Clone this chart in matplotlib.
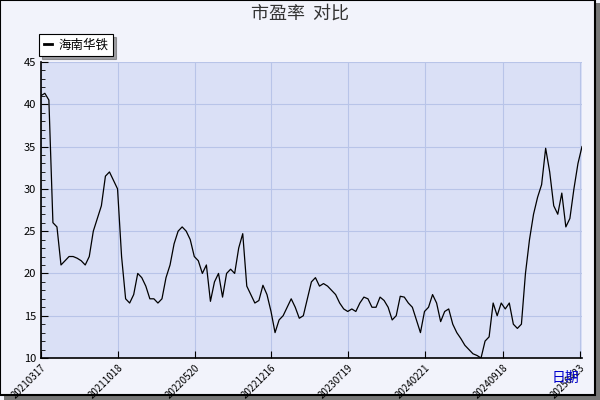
import matplotlib
matplotlib.use("Agg")
import matplotlib.pyplot as plt
import numpy as np
from matplotlib.patches import Rectangle

plt.rcParams['font.family'] = ['Noto Sans CJK SC', 'DejaVu Sans']

tick_labels = ["20210317", "20211018", "20220520", "20221216", "20230719", "20240221", "20240918", "20250423"]
tick_frac = [0, 0.1423, 0.2847, 0.4251, 0.5675, 0.7098, 0.8540, 0.9963]

pe = [41.0, 41.3, 40.5, 26.0, 25.5, 21.0, 21.5, 22.0, 22.0, 21.8, 21.5, 21.0, 22.0, 25.0, 26.5, 28.0,
      31.5, 32.0, 31.0, 30.0, 22.0, 17.0, 16.5, 17.5, 20.0, 19.5, 18.5, 17.0, 17.0,
      16.5, 17.0, 19.5, 21.0, 23.5, 25.0, 25.5, 25.0, 24.0, 22.0, 21.5, 20.0, 21.0, 16.7, 19.0, 20.0,
      17.2, 20.0, 20.5, 20.0, 23.0, 24.7, 18.5, 17.5, 16.5, 16.8,
      18.6, 17.5, 15.5, 13.0, 14.5, 15.0, 16.0, 17.0, 16.0, 14.7, 15.0, 17.0, 19.0, 19.5, 18.5, 18.8,
      18.5, 18.0, 17.5, 16.5, 15.8, 15.5, 15.8, 15.5, 16.5, 17.2, 17.0, 16.0, 16.0, 17.2, 16.8, 16.0,
      14.5, 15.0, 17.3, 17.2, 16.5, 16.0, 14.5, 13.0, 15.5, 16.0,
      17.5, 16.5, 14.3, 15.5, 15.8, 14.0, 13.0, 12.3, 11.5, 11.0, 10.5, 10.3, 10.0,
      12.0, 12.5, 16.5, 15.0, 16.5, 15.8, 16.5, 14.0, 13.5, 14.0, 20.0, 24.0, 27.0, 29.0, 30.5,
      34.8, 32.0, 28.0, 27.0, 29.5, 25.5, 26.5, 30.0, 33.0, 35.0]

n = len(pe)
x = np.arange(n)

fig = plt.figure(figsize=(6, 4), dpi=100, facecolor='#F2F3FB')
fig.patches.append(Rectangle((0.006, 0.0), 0.994, 0.992, transform=fig.transFigure, facecolor='#777777', edgecolor='none', zorder=-3))
fig.patches.append(Rectangle((0.0, 0.012), 0.992, 0.988, transform=fig.transFigure, facecolor='#F2F3FB', edgecolor='black', lw=1.5, zorder=-2))

ax = fig.add_axes([0.068, 0.105, 0.902, 0.74])
ax.set_facecolor('#DAE0F6')
ax.plot(x, pe, color='black', lw=0.9, label='海南华铁')
ax.set_xlim(0, n - 1)
ax.set_ylim(10, 45)
ax.set_yticks(range(10, 46, 5))
ax.set_yticks(range(10, 46, 1), minor=True)
ax.set_xticks([f * (n - 1) for f in tick_frac])
ax.set_xticklabels(tick_labels, rotation=45, ha='right', rotation_mode='anchor', fontsize=7)
ax.tick_params(axis='y', labelsize=8, direction='in', length=5)
ax.tick_params(axis='y', which='minor', direction='in', length=3)
ax.tick_params(axis='x', direction='in', length=5)
ax.grid(True, color='#B8C4E8', lw=0.8)
for s in ['top', 'right']:
    ax.spines[s].set_visible(False)
ax.spines['left'].set_lw(1.2)
ax.spines['bottom'].set_lw(1.2)

fig.text(0.5, 0.965, '市盈率  对比', ha='center', va='center', fontsize=13, color='#333333')
fig.text(0.965, 0.055, '日期', ha='right', va='center', fontsize=10, color='#0000CC')
leg = ax.legend(loc='lower left', bbox_to_anchor=(-0.003, 1.02), fontsize=9, frameon=True,
                fancybox=False, shadow=True, handlelength=0.7, handletextpad=0.5,
                borderpad=0.35, borderaxespad=0)
leg.get_frame().set_edgecolor('black')
leg.get_frame().set_linewidth(0.8)
for h in leg.get_lines():
    h.set_linewidth(2)

fig.savefig('out.png', dpi=100, facecolor=fig.get_facecolor())
